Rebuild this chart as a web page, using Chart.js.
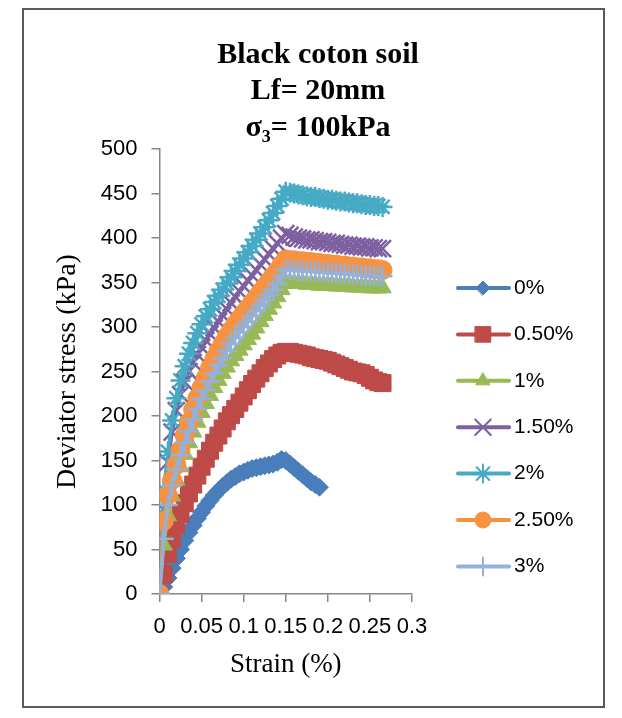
<!DOCTYPE html>
<html>
<head>
<meta charset="utf-8">
<script src="https://cdn.jsdelivr.net/npm/chart.js@4.4.1/dist/chart.umd.min.js"></script>
<style>
  html, body { margin: 0; padding: 0; background: #fff; }
  #frame { position: absolute; left: 22px; top: 8px; width: 583px; height: 700px; border: 2px solid #5a5a5a; box-sizing: border-box; }
  #chart { position: absolute; left: 0; top: 0; }
</style>
</head>
<body>
<div id="frame"></div>
<canvas id="chart" width="622" height="718"></canvas>
<script>
const titleLines = ["Black coton soil", "Lf= 20mm", "σ₃= 100kPa"];
const xTitle = "Strain (%)";
const yTitle = "Deviator stress (kPa)";
const xTickLabels = ["0", "0.05", "0.1", "0.15", "0.2", "0.25", "0.3"];

const seriesNames = ["0%", "0.50%", "1%", "1.50%", "2%", "2.50%", "3%"];

// strain readings (shared by every series; 0% stops earlier)
const strain = [
  0, 0.005, 0.01, 0.015, 0.02, 0.025, 0.03, 0.035, 0.04, 0.045,
  0.05, 0.055, 0.06, 0.065, 0.07, 0.075, 0.08, 0.085, 0.09, 0.095,
  0.1, 0.105, 0.11, 0.115, 0.12, 0.125, 0.13, 0.135, 0.14, 0.145,
  0.15, 0.155, 0.16, 0.165, 0.17, 0.175, 0.18, 0.185, 0.19, 0.195,
  0.2, 0.205, 0.21, 0.215, 0.22, 0.225, 0.23, 0.235, 0.24, 0.245,
  0.25, 0.255, 0.26, 0.265
];

const stress0 = [
  0, 8, 18, 29, 40, 50, 60, 69, 77, 85,
  92, 99, 105, 111, 116, 121, 125, 129, 132, 135,
  137, 139, 141, 142, 143, 144, 145, 146, 148, 151,
  150, 146, 142, 138, 134, 130, 126, 123, 120
];
const stress05 = [
  0, 22, 45, 62, 77, 90, 102, 113, 123, 133,
  143, 152, 161, 170, 178, 186, 194, 201, 208, 215,
  222, 229, 236, 242, 248, 254, 259, 264, 268, 271,
  272, 272, 271, 270, 269, 268, 266, 265, 264, 263,
  262, 260, 258, 256, 254, 252, 250, 249, 248, 246,
  243, 240, 238, 237
];
const stress1 = [
  0, 55, 88, 110, 128, 143, 157, 170, 182, 193,
  204, 214, 223, 232, 240, 248, 255, 262, 268, 274,
  280, 286, 292, 299, 306, 313, 320, 327, 334, 342,
  350, 350, 349, 349, 349, 348, 348, 348, 347, 347,
  347, 347, 346, 346, 346, 346, 345, 345, 345, 345,
  344, 344, 344, 344
];
const stress15 = [
  0, 95, 148, 182, 206, 224, 238, 250, 260, 269,
  277, 285, 292, 299, 306, 313, 320, 327, 334, 340,
  346, 352, 358, 364, 370, 376, 382, 388, 394, 400,
  405, 403, 401, 400, 399, 398, 398, 397, 396, 396,
  395, 394, 394, 393, 392, 392, 391, 391, 390, 390,
  389, 389, 388, 388
];
const stress2 = [
  0, 117, 160, 195, 220, 240, 256, 270, 282, 293,
  303, 312, 320, 328, 335, 342, 349, 356, 363, 370,
  377, 384, 391, 398, 405, 412, 420, 428, 436, 444,
  452, 451, 450, 449, 448, 447, 446, 446, 445, 444,
  443, 443, 442, 441, 441, 440, 439, 439, 438, 437,
  437, 436, 436, 435
];
const stress25 = [
  0, 82, 111, 128, 145, 162, 178, 193, 207, 220,
  232, 243, 254, 264, 273, 281, 289, 296, 303, 309,
  315, 321, 327, 333, 339, 345, 351, 357, 363, 370,
  376, 375, 375, 374, 374, 373, 373, 372, 372, 371,
  371, 370, 370, 369, 369, 368, 368, 367, 367, 366,
  366, 365, 365, 364
];
const stress3 = [
  0, 62, 100, 122, 140, 156, 170, 183, 196, 208,
  219, 229, 239, 248, 257, 265, 273, 281, 288, 294,
  300, 306, 312, 318, 324, 330, 336, 342, 349, 357,
  365, 364, 364, 363, 363, 363, 362, 362, 362, 361,
  361, 361, 360, 360, 360, 359, 359, 359, 358, 358,
  358, 357, 357, 357
];

const seriesValues = [stress0, stress05, stress1, stress15, stress2, stress25, stress3];
const seriesColors = ["#4A7EBB", "#BE4B48", "#98B954", "#7D60A0", "#46AAC5", "#F69240", "#94B1DA"];
const markerStyles = ["rectRot", "rect", "triangle", "crossRot", "star", "circle", "cross"];
const markerSizes = [9, 12, 10, 12, 10, 9.5, 10];
const legendMarkerSizes = [7, 11, 8, 11, 9, 8, 9];
const hollowMarkers = ["crossRot", "star", "cross"];

const datasets = seriesNames.map((name, i) => ({
  label: name,
  data: seriesValues[i].map((v, k) => ({ x: strain[k], y: v })),
  borderColor: seriesColors[i],
  backgroundColor: seriesColors[i],
  borderWidth: 3.5,
  pointStyle: markerStyles[i],
  pointRadius: markerSizes[i],
  pointBorderWidth: hollowMarkers.includes(markerStyles[i]) ? 2.5 : 1,
  pointBorderColor: seriesColors[i],
  pointBackgroundColor: seriesColors[i],
  showLine: true,
  tension: 0,
  order: seriesNames.length - i,
  yAxisID: "y",
}));

// legend drawn like Excel: short line with the marker on it
const lineLegend = {
  id: "lineLegend",
  afterDraw(chart) {
    const c = chart.ctx;
    chart.data.datasets.forEach((ds, i) => {
      const y = 288 + i * 46.4;
      c.save();
      c.strokeStyle = ds.borderColor;
      c.lineWidth = 4;
      c.lineCap = "round";
      c.beginPath();
      c.moveTo(458, y);
      c.lineTo(509, y);
      c.stroke();
      c.fillStyle = ds.backgroundColor;
      c.lineWidth = hollowMarkers.includes(ds.pointStyle) ? 2 : 1;
      Chart.helpers.drawPoint(c, {
        pointStyle: ds.pointStyle,
        radius: legendMarkerSizes[i],
        rotation: 0,
        borderWidth: c.lineWidth,
      }, 483, y);
      c.fillStyle = "#000";
      c.font = '21px "Liberation Sans"';
      c.textBaseline = "middle";
      c.textAlign = "left";
      c.fillText(ds.label, 514, y);
      c.restore();
    });
  },
};

const axisGrey = "#868686";

new Chart(document.getElementById("chart"), {
  type: "scatter",
  data: { datasets },
  plugins: [lineLegend],
  options: {
    responsive: false,
    devicePixelRatio: 1,
    animation: false,
    layout: { padding: { left: 14, right: 0, top: 0, bottom: 0 } },
    plugins: {
      legend: { display: false },
      tooltip: { enabled: false },
      title: {
        display: true,
        text: titleLines,
        color: "#000",
        font: { family: "Liberation Serif", size: 30, weight: "bold", lineHeight: 1.217 },
        padding: { top: 36.75, bottom: 2.75 },
      },
    },
    scales: {
      x: {
        type: "linear",
        min: 0,
        max: 0.3,
        afterFit(s) { s.height = 124; },
        border: { display: true, color: axisGrey, width: 1.5 },
        grid: { display: true, drawOnChartArea: false, drawTicks: true, tickLength: 8, color: axisGrey, lineWidth: 1.5 },
        ticks: {
          stepSize: 0.05,
          autoSkip: false,
          maxRotation: 0,
          minRotation: 0,
          padding: 12,
          color: "#000",
          font: { family: "Liberation Sans", size: 22 },
          callback: (v) => xTickLabels[Math.round(v / 0.05)],
        },
        title: {
          display: true,
          text: xTitle,
          color: "#000",
          font: { family: "Liberation Serif", size: 27 },
          padding: { top: 0, bottom: 36.8 },
        },
      },
      y: {
        type: "linear",
        position: "left",
        min: 0,
        max: 500,
        afterFit(s) { s.width = 145.5; },
        border: { display: true, color: axisGrey, width: 1.5 },
        grid: { display: true, drawOnChartArea: false, drawTicks: true, tickLength: 8, color: axisGrey, lineWidth: 1.5 },
        ticks: {
          stepSize: 50,
          padding: 14,
          color: "#000",
          font: { family: "Liberation Sans", size: 22 },
        },
        title: {
          display: true,
          text: yTitle,
          color: "#000",
          font: { family: "Liberation Serif", size: 28 },
          padding: { top: 37.2, bottom: 0 },
        },
      },
      legendSpace: {
        type: "linear",
        position: "right",
        display: true,
        afterFit(s) { s.width = 210; },
        border: { display: false },
        grid: { display: false, drawTicks: false },
        ticks: { display: false },
      },
    },
  },
});
</script>
</body>
</html>
